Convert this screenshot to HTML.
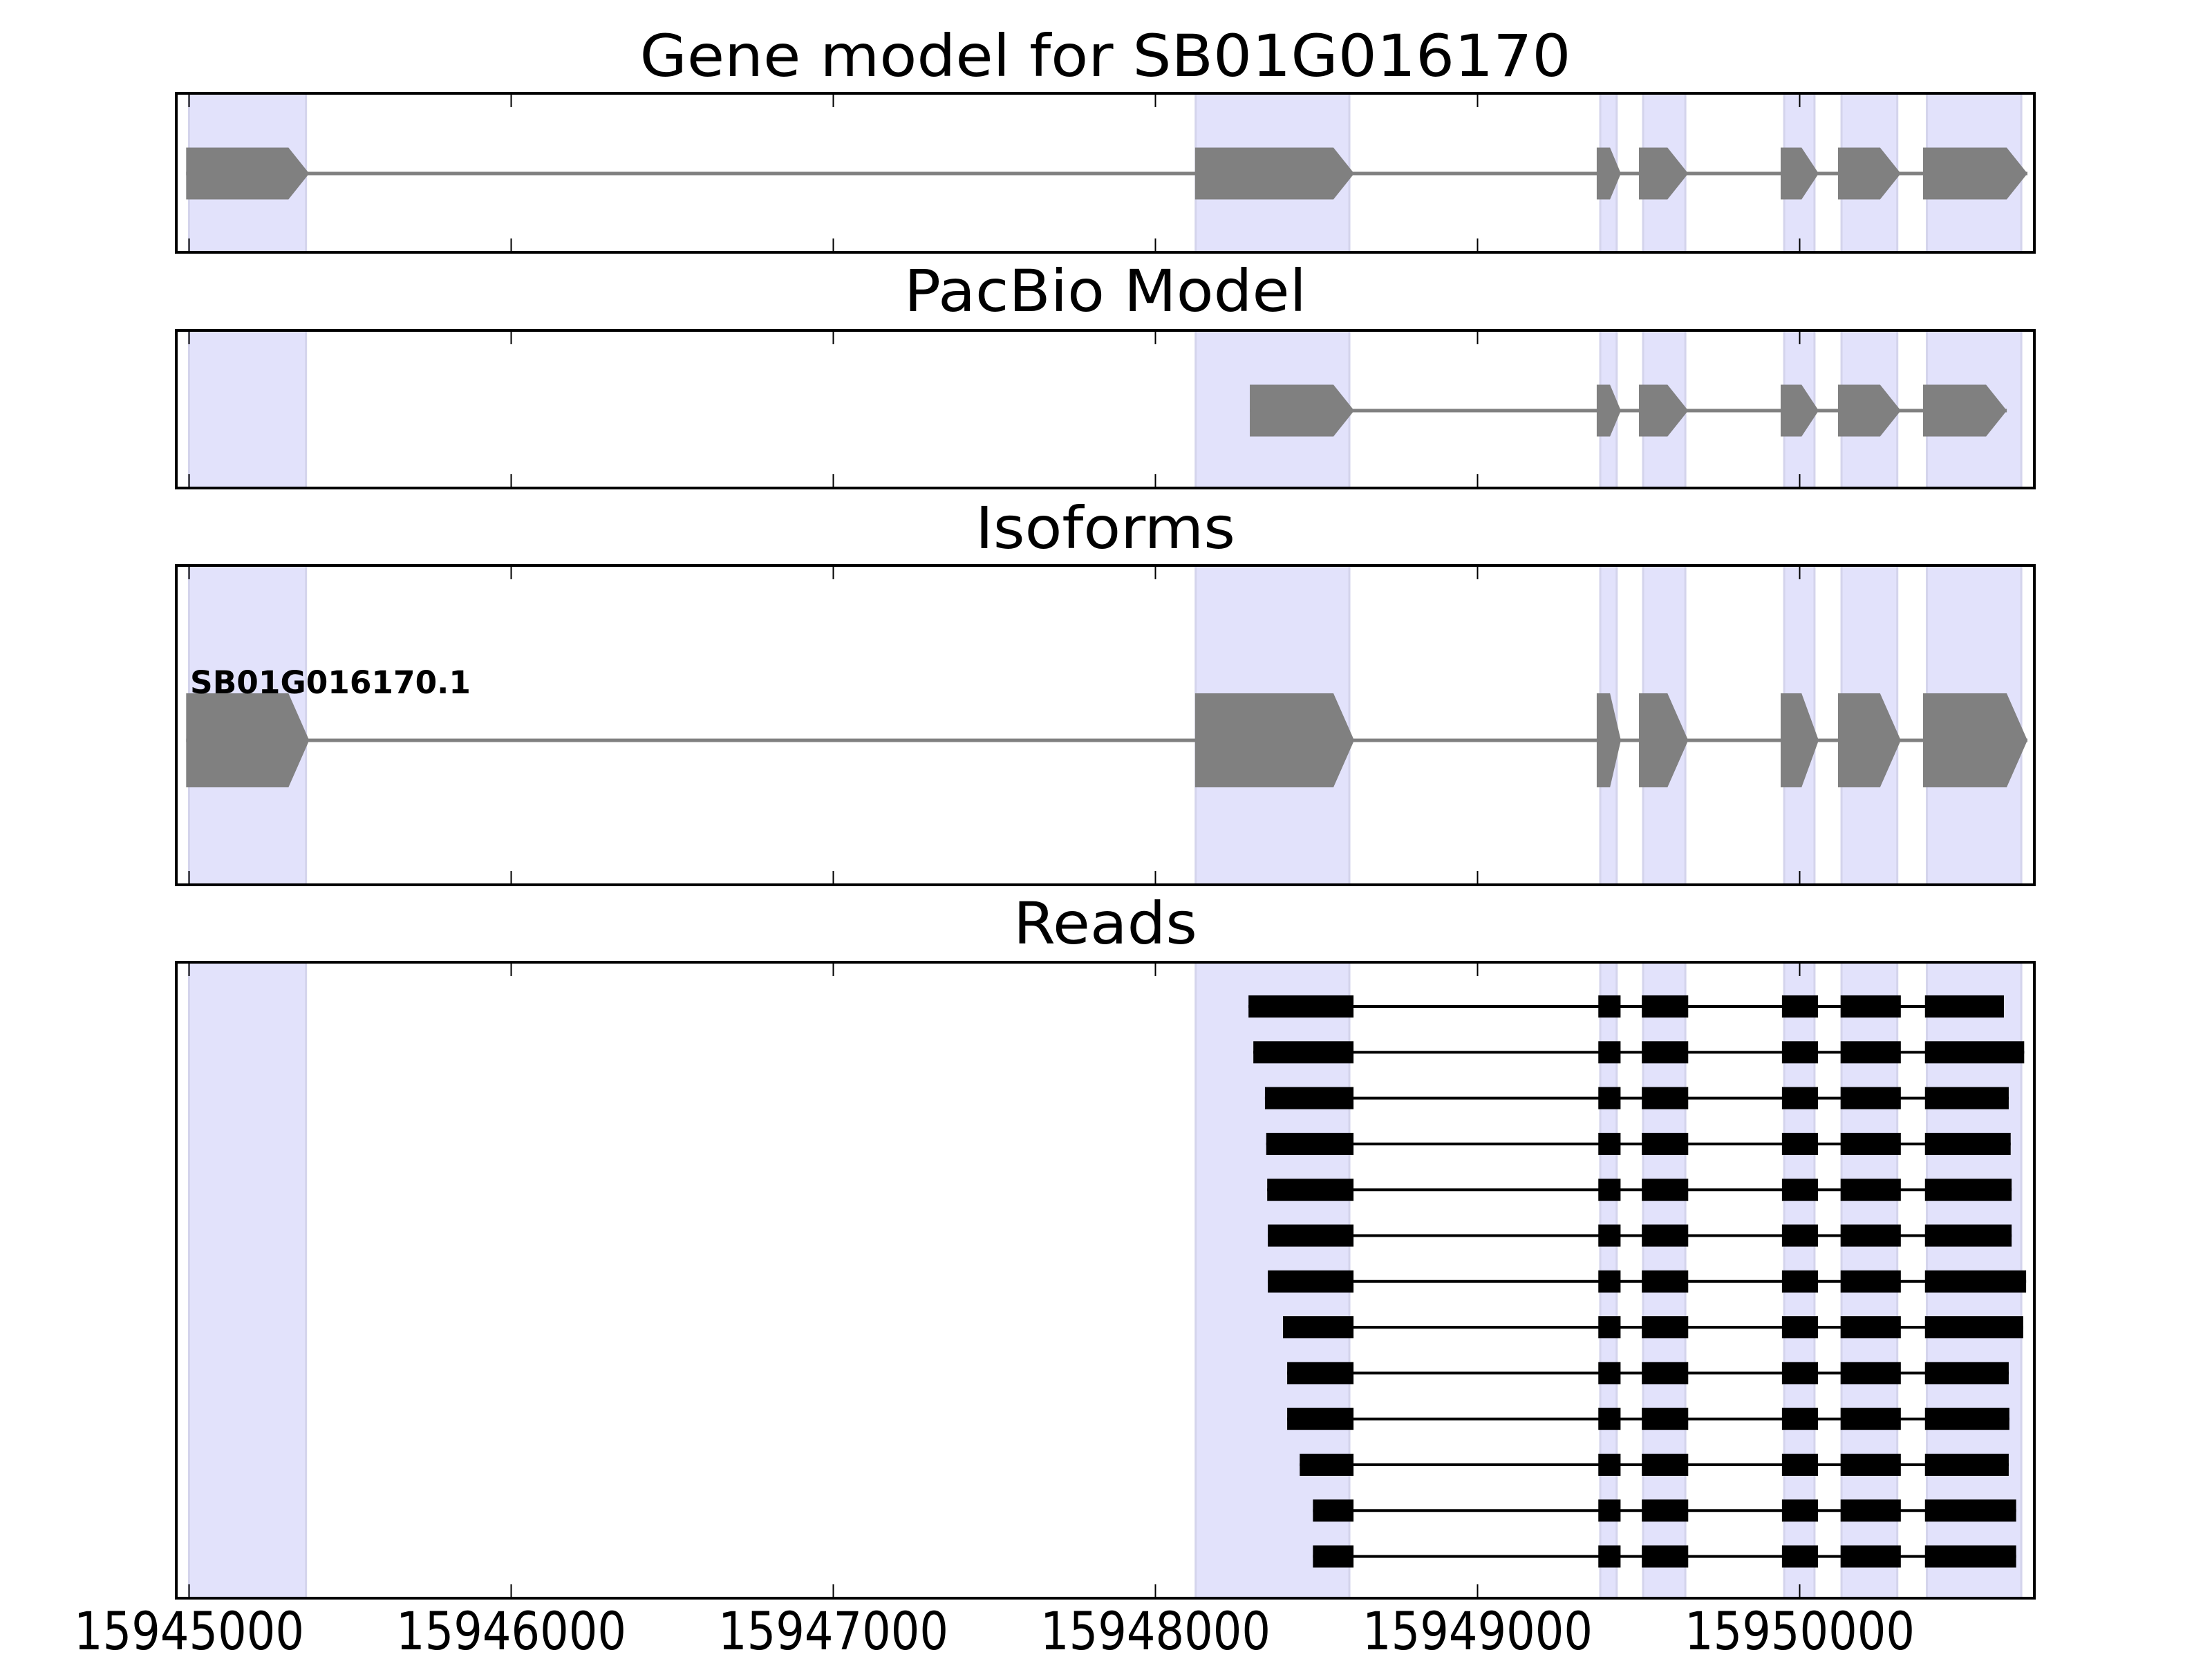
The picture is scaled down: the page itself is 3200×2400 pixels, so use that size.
<!DOCTYPE html>
<html><head><meta charset="utf-8"><title>Gene model for SB01G016170</title>
<style>html,body{margin:0;padding:0;background:#fff}svg{display:block}</style></head>
<body>
<svg id="chart" xmlns="http://www.w3.org/2000/svg" width="3200" height="2400" viewBox="0 0 3200 2400" font-family="DejaVu Sans, Liberation Sans, sans-serif"></svg>
<script>
// ---- data ----
const tickValues = [15945000, 15946000, 15947000, 15948000, 15949000, 15950000];
const tickLabels = ["15945000", "15946000", "15947000", "15948000", "15949000", "15950000"];
const bandStarts = [15945000, 15948125, 15949381, 15949514, 15949952, 15950130, 15950395];
const bandEnds   = [15945363, 15948602, 15949432, 15949645, 15950046, 15950303, 15950688];
const geneExonStarts = [15944991, 15948123, 15949370, 15949501, 15949941, 15950119, 15950383];
const geneExonEnds   = [15945373, 15948617, 15949445, 15949654, 15950059, 15950314, 15950707];
const pacbioExonStarts = [15948293, 15949370, 15949501, 15949941, 15950119, 15950383];
const pacbioExonEnds   = [15948617, 15949445, 15949654, 15950059, 15950314, 15950643];
const isoformName = "SB01G016170.1";
const readStarts = [15948289, 15948304, 15948340, 15948344, 15948347, 15948349, 15948349, 15948396, 15948409, 15948409, 15948448, 15948489, 15948489];
const readEnds   = [15950634, 15950697, 15950649, 15950655, 15950658, 15950658, 15950703, 15950694, 15950649, 15950651, 15950649, 15950672, 15950672];
const readInnerStarts = [15949375, 15949510, 15949945, 15950127, 15950389];
const readInnerEnds   = [15949444, 15949654, 15950057, 15950314];
const firstBlockEnd = 15948615;

// ---- geometry ----
const NS = "http://www.w3.org/2000/svg";
const svg = document.getElementById("chart");
const AX_L = 255, AX_R = 2943;
const X0 = 15945000, PXBP = 0.466, XOFF = 273.5;
function xs(bp){ return XOFF + (bp - X0) * PXBP; }
const panels = [
  {name:"gene-model", title:"Gene model for SB01G016170", top:135, bot:365, ty:110, tl:1347},
  {name:"pacbio-model", title:"PacBio Model", top:478, bot:706, ty:450, tl:582},
  {name:"isoforms", title:"Isoforms", top:818, bot:1280, ty:793, tl:376},
  {name:"reads", title:"Reads", top:1392, bot:2312, ty:1365, tl:266}
];
function mk(tag, attrs, parent){
  const e = document.createElementNS(NS, tag);
  for (const k in attrs) e.setAttribute(k, attrs[k]);
  (parent || svg).appendChild(e);
  return e;
}
function arrowPts(s, e, cy, h, head){
  const x1 = xs(s), x2 = xs(e);
  const hl = Math.min(head, (x2 - x1) * 0.45);
  return [[x1,cy-h/2],[x2-hl,cy-h/2],[x2,cy],[x2-hl,cy+h/2],[x1,cy+h/2]].map(p=>p.join(",")).join(" ");
}

panels.forEach(function(p, pi){
  const g = mk("g", {});
  
  
  // bands
  for (let i = 0; i < bandStarts.length; i++){
    const r = mk("rect", {x: xs(bandStarts[i]), y: p.top, width: xs(bandEnds[i]) - xs(bandStarts[i]), height: p.bot - p.top, fill: "#e2e2fb", stroke: "#d4d4ec", "stroke-width": 3}, g);
    
    
  }
  const cy = (p.top + p.bot) / 2;
  if (pi === 0 || pi === 1 || pi === 2){
    const starts = pi === 1 ? pacbioExonStarts : geneExonStarts;
    const ends = pi === 1 ? pacbioExonEnds : geneExonEnds;
    const acy = pi === 2 ? 1071 : (pi === 0 ? 251 : 594);
    const h = pi === 2 ? 136 : 75;
    const ln = mk("line", {x1: xs(starts[0]), x2: xs(ends[ends.length-1]), y1: acy, y2: acy, stroke: "#808080", "stroke-width": 5}, g);
    
    
    for (let i = 0; i < starts.length; i++){
      const a = mk("polygon", {points: arrowPts(starts[i], ends[i], acy, h, 30), fill: "#808080"}, g);
      
      
    }
    if (pi === 2){
      const t = mk("text", {x: 275, y: 1003, "font-size": 45, "font-weight": "bold", textLength: 406, lengthAdjust: "spacingAndGlyphs", fill: "#000"}, g);
      t.textContent = isoformName;
      
      
    }
  }
  if (pi === 3){
    for (let r = 0; r < readStarts.length; r++){
      const ry = 1456 + r * 66.3;
      const rg = mk("g", {}, g);
      
      
      mk("line", {x1: xs(readStarts[r]), x2: xs(readEnds[r]), y1: ry, y2: ry, stroke: "#000", "stroke-width": 4}, rg);
      const bs = [readStarts[r]].concat(readInnerStarts);
      const be = [firstBlockEnd].concat(readInnerEnds).concat([readEnds[r]]);
      for (let i = 0; i < bs.length; i++){
        mk("rect", {x: xs(bs[i]), y: ry - 16, width: xs(be[i]) - xs(bs[i]), height: 32, fill: "#000"}, rg);
      }
    }
  }
  // ticks
  tickValues.forEach(function(v){
    const x = xs(v);
    const t1 = mk("line", {x1: x, x2: x, y1: p.top, y2: p.top + 20, stroke: "#000", "stroke-width": 2}, g);
    
    
    const t2 = mk("line", {x1: x, x2: x, y1: p.bot, y2: p.bot - 20, stroke: "#000", "stroke-width": 2}, g);
    
    
  });
  // frame
  const fr = mk("rect", {x: AX_L, y: p.top, width: AX_R - AX_L, height: p.bot - p.top, fill: "none", stroke: "#000", "stroke-width": 4}, g);
  
  
  // title
  const tt = mk("text", {x: (AX_L + AX_R) / 2, y: p.ty, "text-anchor": "middle", "font-size": 84, textLength: p.tl, lengthAdjust: "spacingAndGlyphs", fill: "#000"}, g);
  tt.textContent = p.title;
  
  
});

// x tick labels
tickValues.forEach(function(v, i){
  const t = mk("text", {x: xs(v), y: 2386, "text-anchor": "middle", "font-size": 76, textLength: 333, lengthAdjust: "spacingAndGlyphs", fill: "#000"});
  t.textContent = tickLabels[i];
  
  
});
</script>
</body></html>
